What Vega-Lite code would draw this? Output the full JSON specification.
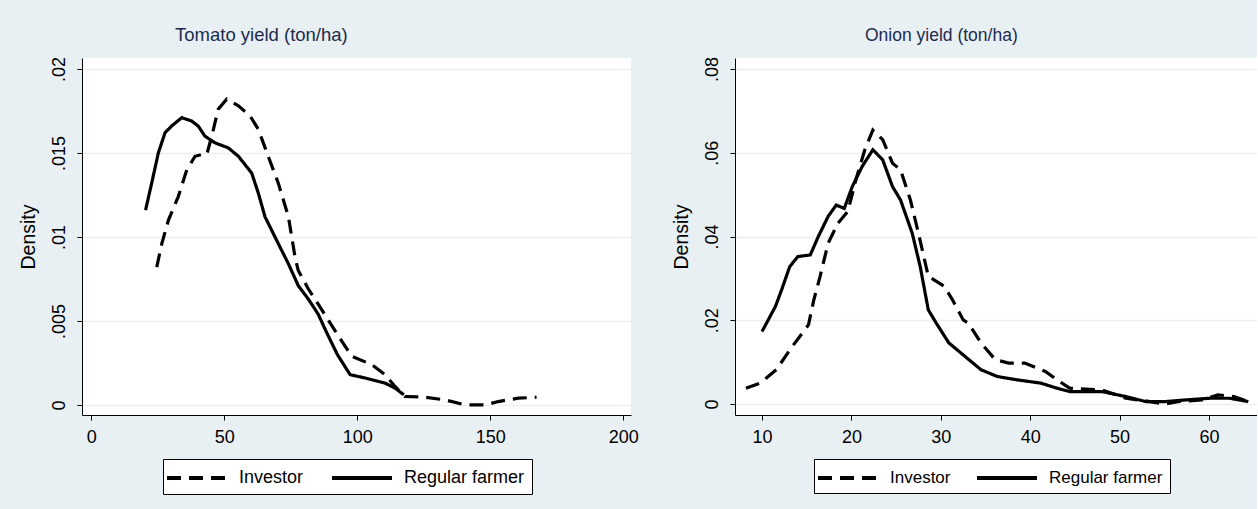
{
  "$schema": "https://vega.github.io/schema/vega-lite/v6.json",
  "background": "#e9f0f3",
  "padding": {"left": 18, "top": 25, "right": 0, "bottom": 16},
  "spacing": 32,
  "config": {
    "font": "Liberation Sans",
    "view": {"stroke": null, "fill": "white"},
    "axis": {
      "domainColor": "black", "domainWidth": 1, "tickColor": "black", "tickSize": 5, "tickWidth": 1,
      "labelFont": "Liberation Sans", "labelFontSize": 18, "labelColor": "black",
      "titleFont": "Liberation Sans", "titleFontWeight": "normal", "titleColor": "black", "titleFontSize": 19.5,
      "gridColor": "#e9f0f3", "gridWidth": 1.5
    },
    "legend": {
      "strokeColor": "black", "fillColor": "white", "padding": 7, "cornerRadius": 0,
      "labelFont": "Liberation Sans", "labelFontSize": 18, "labelColor": "black", "labelLimit": 300,
      "symbolType": "M-3,0L3,0", "symbolSize": 400, "symbolStrokeWidth": 4, "symbolStrokeColor": "black",
      "symbolOffset": 15, "labelOffset": 30, "columnPadding": 20, "direction": "horizontal", "columns": 2
    },
    "title": {"font": "Liberation Sans", "fontWeight": "normal", "color": "#1c2b4e", "anchor": "start", "frame": "group", "baseline": "alphabetic"}
  },
  "datasets": {
    "tomato": [
      {"g": "Regular farmer", "x": 20.4, "d": 0.0116}, {"g": "Regular farmer", "x": 22.7, "d": 0.0132}, {"g": "Regular farmer", "x": 25.2, "d": 0.0150}, {"g": "Regular farmer", "x": 27.7, "d": 0.0162}, {"g": "Regular farmer", "x": 30.2, "d": 0.0166}, {"g": "Regular farmer", "x": 34.0, "d": 0.0171}, {"g": "Regular farmer", "x": 37.7, "d": 0.0169}, {"g": "Regular farmer", "x": 40.2, "d": 0.0166}, {"g": "Regular farmer", "x": 42.7, "d": 0.0160}, {"g": "Regular farmer", "x": 46.5, "d": 0.0156}, {"g": "Regular farmer", "x": 51.5, "d": 0.0153}, {"g": "Regular farmer", "x": 55.3, "d": 0.0148}, {"g": "Regular farmer", "x": 60.3, "d": 0.0138}, {"g": "Regular farmer", "x": 62.8, "d": 0.0126}, {"g": "Regular farmer", "x": 65.3, "d": 0.0112}, {"g": "Regular farmer", "x": 67.8, "d": 0.0104}, {"g": "Regular farmer", "x": 70.3, "d": 0.0096}, {"g": "Regular farmer", "x": 74.1, "d": 0.0084}, {"g": "Regular farmer", "x": 77.8, "d": 0.0071}, {"g": "Regular farmer", "x": 81.6, "d": 0.0063}, {"g": "Regular farmer", "x": 85.3, "d": 0.0054}, {"g": "Regular farmer", "x": 88.5, "d": 0.0043}, {"g": "Regular farmer", "x": 92.5, "d": 0.0030}, {"g": "Regular farmer", "x": 97.3, "d": 0.0018}, {"g": "Regular farmer", "x": 103.0, "d": 0.0016}, {"g": "Regular farmer", "x": 110.4, "d": 0.0013}, {"g": "Regular farmer", "x": 114.2, "d": 0.0010}, {"g": "Regular farmer", "x": 117.5, "d": 0.0006},
      {"g": "Investor", "x": 24.6, "d": 0.0082}, {"g": "Investor", "x": 26.5, "d": 0.0096}, {"g": "Investor", "x": 29.0, "d": 0.0110}, {"g": "Investor", "x": 32.7, "d": 0.0124}, {"g": "Investor", "x": 35.9, "d": 0.0140}, {"g": "Investor", "x": 39.0, "d": 0.0148}, {"g": "Investor", "x": 41.5, "d": 0.0149}, {"g": "Investor", "x": 43.4, "d": 0.0149}, {"g": "Investor", "x": 45.3, "d": 0.0160}, {"g": "Investor", "x": 47.7, "d": 0.0176}, {"g": "Investor", "x": 50.9, "d": 0.0182}, {"g": "Investor", "x": 55.3, "d": 0.0178}, {"g": "Investor", "x": 59.7, "d": 0.0172}, {"g": "Investor", "x": 62.8, "d": 0.0164}, {"g": "Investor", "x": 66.5, "d": 0.0148}, {"g": "Investor", "x": 70.3, "d": 0.0132}, {"g": "Investor", "x": 74.1, "d": 0.0112}, {"g": "Investor", "x": 76.6, "d": 0.0088}, {"g": "Investor", "x": 77.8, "d": 0.0080}, {"g": "Investor", "x": 81.6, "d": 0.0069}, {"g": "Investor", "x": 85.3, "d": 0.0060}, {"g": "Investor", "x": 88.5, "d": 0.0052}, {"g": "Investor", "x": 92.9, "d": 0.0041}, {"g": "Investor", "x": 97.9, "d": 0.0029}, {"g": "Investor", "x": 105.4, "d": 0.0024}, {"g": "Investor", "x": 110.4, "d": 0.0018}, {"g": "Investor", "x": 114.2, "d": 0.0011}, {"g": "Investor", "x": 117.9, "d": 0.0005}, {"g": "Investor", "x": 125.4, "d": 0.00046}, {"g": "Investor", "x": 132.9, "d": 0.0003}, {"g": "Investor", "x": 140.5, "d": 0.0}, {"g": "Investor", "x": 148.0, "d": 0.0}, {"g": "Investor", "x": 153.0, "d": 0.0002}, {"g": "Investor", "x": 160.5, "d": 0.0004}, {"g": "Investor", "x": 167.4, "d": 0.00046}
    ],
    "onion": [
      {"g": "Regular farmer", "x": 10.0, "d": 0.0173}, {"g": "Regular farmer", "x": 11.5, "d": 0.0233}, {"g": "Regular farmer", "x": 12.2, "d": 0.0273}, {"g": "Regular farmer", "x": 13.1, "d": 0.0328}, {"g": "Regular farmer", "x": 14.0, "d": 0.0352}, {"g": "Regular farmer", "x": 15.4, "d": 0.0356}, {"g": "Regular farmer", "x": 16.3, "d": 0.0400}, {"g": "Regular farmer", "x": 17.4, "d": 0.0448}, {"g": "Regular farmer", "x": 18.3, "d": 0.0475}, {"g": "Regular farmer", "x": 19.2, "d": 0.0467}, {"g": "Regular farmer", "x": 20.1, "d": 0.0519}, {"g": "Regular farmer", "x": 21.2, "d": 0.0567}, {"g": "Regular farmer", "x": 22.4, "d": 0.0607}, {"g": "Regular farmer", "x": 23.5, "d": 0.0583}, {"g": "Regular farmer", "x": 24.6, "d": 0.0519}, {"g": "Regular farmer", "x": 25.5, "d": 0.0487}, {"g": "Regular farmer", "x": 26.8, "d": 0.0408}, {"g": "Regular farmer", "x": 27.7, "d": 0.0328}, {"g": "Regular farmer", "x": 28.6, "d": 0.0225}, {"g": "Regular farmer", "x": 29.5, "d": 0.0193}, {"g": "Regular farmer", "x": 30.9, "d": 0.0146}, {"g": "Regular farmer", "x": 32.7, "d": 0.0114}, {"g": "Regular farmer", "x": 34.5, "d": 0.0082}, {"g": "Regular farmer", "x": 36.3, "d": 0.0066}, {"g": "Regular farmer", "x": 38.5, "d": 0.0058}, {"g": "Regular farmer", "x": 41.2, "d": 0.0050}, {"g": "Regular farmer", "x": 43.0, "d": 0.0038}, {"g": "Regular farmer", "x": 44.4, "d": 0.0030}, {"g": "Regular farmer", "x": 48.0, "d": 0.0030}, {"g": "Regular farmer", "x": 50.7, "d": 0.0018}, {"g": "Regular farmer", "x": 52.9, "d": 0.0006}, {"g": "Regular farmer", "x": 55.1, "d": 0.0006}, {"g": "Regular farmer", "x": 57.4, "d": 0.0010}, {"g": "Regular farmer", "x": 60.1, "d": 0.0014}, {"g": "Regular farmer", "x": 62.3, "d": 0.0014}, {"g": "Regular farmer", "x": 64.4, "d": 0.0006},
      {"g": "Investor", "x": 8.2, "d": 0.0038}, {"g": "Investor", "x": 9.8, "d": 0.0050}, {"g": "Investor", "x": 11.6, "d": 0.0082}, {"g": "Investor", "x": 13.4, "d": 0.0138}, {"g": "Investor", "x": 15.2, "d": 0.0189}, {"g": "Investor", "x": 15.8, "d": 0.0249}, {"g": "Investor", "x": 16.5, "d": 0.0305}, {"g": "Investor", "x": 17.4, "d": 0.0384}, {"g": "Investor", "x": 18.5, "d": 0.0432}, {"g": "Investor", "x": 19.6, "d": 0.0460}, {"g": "Investor", "x": 20.6, "d": 0.0543}, {"g": "Investor", "x": 21.5, "d": 0.0607}, {"g": "Investor", "x": 22.4, "d": 0.0654}, {"g": "Investor", "x": 23.5, "d": 0.0631}, {"g": "Investor", "x": 24.6, "d": 0.0575}, {"g": "Investor", "x": 25.5, "d": 0.0559}, {"g": "Investor", "x": 26.6, "d": 0.0487}, {"g": "Investor", "x": 27.5, "d": 0.0408}, {"g": "Investor", "x": 28.6, "d": 0.0305}, {"g": "Investor", "x": 30.4, "d": 0.0281}, {"g": "Investor", "x": 31.3, "d": 0.0249}, {"g": "Investor", "x": 32.5, "d": 0.0201}, {"g": "Investor", "x": 33.1, "d": 0.0193}, {"g": "Investor", "x": 34.5, "d": 0.0146}, {"g": "Investor", "x": 36.1, "d": 0.0106}, {"g": "Investor", "x": 37.6, "d": 0.0098}, {"g": "Investor", "x": 39.4, "d": 0.0098}, {"g": "Investor", "x": 41.7, "d": 0.0078}, {"g": "Investor", "x": 43.0, "d": 0.0058}, {"g": "Investor", "x": 44.4, "d": 0.0038}, {"g": "Investor", "x": 48.0, "d": 0.0034}, {"g": "Investor", "x": 50.7, "d": 0.0014}, {"g": "Investor", "x": 53.4, "d": 0.0006}, {"g": "Investor", "x": 55.1, "d": 0.0}, {"g": "Investor", "x": 56.5, "d": 0.0006}, {"g": "Investor", "x": 59.2, "d": 0.0010}, {"g": "Investor", "x": 61.0, "d": 0.0022}, {"g": "Investor", "x": 62.8, "d": 0.0018}, {"g": "Investor", "x": 64.4, "d": 0.0006}
    ]
  },
  "hconcat": [
    {
      "width": 549, "height": 357,
      "title": {"text": "Tomato yield (ton/ha)", "fontSize": 18.5, "dx": 93, "offset": 12},
      "data": {"name": "tomato"},
      "mark": {"type": "line", "color": "black", "strokeWidth": 3.2, "clip": true},
      "encoding": {
        "x": {"field": "x", "type": "quantitative", "title": null,
              "scale": {"domain": [-3.5, 202.9], "nice": false, "zero": false},
              "axis": {"values": [0, 50, 100, 150, 200], "grid": false, "labelPadding": 8}},
        "y": {"field": "d", "type": "quantitative", "title": "Density",
              "scale": {"domain": [-0.0006, 0.02065], "nice": false, "zero": false},
              "axis": {"values": [0, 0.005, 0.01, 0.015, 0.02], "labelAngle": -90, "labelAlign": "center", "labelBaseline": "bottom", "labelPadding": 9, "titlePadding": 12,
                       "labelExpr": "datum.value == 0 ? '0' : replace(toString(datum.value), '0.', '.')"}},
        "strokeDash": {"field": "g", "type": "nominal",
                       "scale": {"domain": ["Investor", "Regular farmer"], "range": [[14, 8], [1, 0]]},
                       "legend": {"title": null, "orient": "none", "legendX": 81, "legendY": 401}}
      }
    },
    {
      "width": 522, "height": 357,
      "title": {"text": "Onion yield (ton/ha)", "fontSize": 17.5, "dx": 130, "offset": 12},
      "data": {"name": "onion"},
      "mark": {"type": "line", "color": "black", "strokeWidth": 3.2, "clip": true},
      "encoding": {
        "x": {"field": "x", "type": "quantitative", "title": null,
              "scale": {"domain": [6.98, 65.37], "nice": false, "zero": false},
              "axis": {"values": [10, 20, 30, 40, 50, 60], "grid": false, "labelPadding": 8}},
        "y": {"field": "d", "type": "quantitative", "title": "Density",
              "scale": {"domain": [-0.0026, 0.0826], "nice": false, "zero": false},
              "axis": {"values": [0, 0.02, 0.04, 0.06, 0.08], "labelAngle": -90, "labelAlign": "center", "labelBaseline": "bottom", "labelPadding": 9, "titlePadding": 12,
                       "labelExpr": "datum.value == 0 ? '0' : replace(toString(datum.value), '0.', '.')"}},
        "strokeDash": {"field": "g", "type": "nominal",
                       "scale": {"domain": ["Investor", "Regular farmer"], "range": [[14, 8], [1, 0]]},
                       "legend": {"title": null, "orient": "none", "legendX": 79, "legendY": 401, "labelFontSize": 17, "columnPadding": 18}}
      }
    }
  ],
  "resolve": {"scale": {"strokeDash": "independent", "x": "independent", "y": "independent"}, "legend": {"strokeDash": "independent"}}
}
